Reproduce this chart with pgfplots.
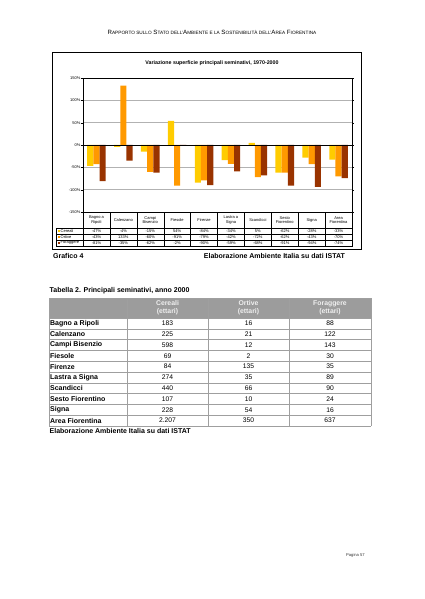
\documentclass[border=0pt]{standalone}
\usepackage{pgfplots}
\pgfplotsset{compat=1.18}
\usepackage{fontspec}
\setmainfont{Liberation Sans}
\definecolor{cer}{HTML}{FFCC00}
\definecolor{ort}{HTML}{FF9900}
\definecolor{fora}{HTML}{993300}
\definecolor{hdr}{HTML}{9C9C9C}
\newcommand{\SC}[1]{{\fontsize{6.6}{7}\selectfont\MakeUppercase{#1}}}
\newcommand{\ctab}{\fontsize{5.6}{6.3}\selectfont}
\begin{document}
\begin{tikzpicture}[x=1.4pt,y=-1.4pt]
\fill[white] (0,0) rectangle (424,599);
% page header
\node[font=\fontsize{8.6}{9}\selectfont] at (212,32) {R\SC{apporto sullo} S\SC{tato dell'}A\SC{mbiente e la} S\SC{ostenibilità dell'}A\SC{rea} F\SC{iorentina}};
% chart frame
\draw[black, line width=0.9pt] (52,52) rectangle (361,249);
\node[font=\bfseries\fontsize{7.4}{8}\selectfont] at (212,63) {Variazione superficie principali seminativi, 1970-2000};
\coordinate (plotNW) at (83,78);
\begin{axis}[
  at={(plotNW)}, anchor=north west,
  width=376.6pt, height=187.6pt, scale only axis,
  xmin=-0.5, xmax=9.5, ymin=-150, ymax=150,
  xtick=\empty,
  ytick={-150,-100,-50,0,50,100,150},
  yticklabels={-150\%,-100\%,-50\%,0\%,50\%,100\%,150\%},
  yticklabel style={font=\ctab, inner sep=1pt},
  tick align=outside, major tick length=2.5pt,
  tick style={black, line width=0.4pt},
  ymajorgrids, grid style={gray!60, line width=0.5pt},
  axis line style={black, line width=0.6pt},
  ybar=0pt, bar width=0.23,
  clip=false,
]
\addplot[fill=cer, draw=none, bar shift=-0.23] coordinates {(0,-47) (1,-4) (2,-15) (3,54) (4,-84) (5,-34) (6,5) (7,-62) (8,-28) (9,-33)};
\addplot[fill=ort, draw=none, bar shift=0] coordinates {(0,-43) (1,133) (2,-60) (3,-91) (4,-79) (5,-42) (6,-72) (7,-62) (8,-43) (9,-70)};
\addplot[fill=fora, draw=none, bar shift=0.23] coordinates {(0,-81) (1,-35) (2,-62) (3,-2) (4,-90) (5,-59) (6,-68) (7,-91) (8,-94) (9,-74)};
\draw[black, line width=0.8pt] (axis cs:-0.5,0) -- (axis cs:9.5,0);
\end{axis}
% data table under chart
\draw[line width=0.4pt] (83,212) rectangle (352,246);
\foreach \k in {1,...,9} \draw[line width=0.4pt] ({83+26.9*\k},212) -- ({83+26.9*\k},246);
\foreach \yy in {228,234,240,246} \draw[line width=0.4pt] (56,\yy) -- (352,\yy);
\draw[line width=0.4pt] (56,228) -- (56,246);
\foreach \n [count=\i from 0] in {{Bagno a\\Ripoli},Calenzano,{Campi\\Bisenzio},Fiesole,Firenze,{Lastra a\\Signa},Scandicci,{Sesto\\Fiorentino},Signa,{Area\\Fiorentina}}
  \node[align=center, font=\ctab, inner sep=0pt] at ({83+26.9*(\i+0.5)},220) {\n};
\foreach \v [count=\i from 0] in {-47,-4,-15,54,-84,-34,5,-62,-28,-33}
  \node[font=\ctab, inner sep=0pt] at ({83+26.9*(\i+0.5)},231) {\v\%};
\foreach \v [count=\i from 0] in {-43,133,-60,-91,-79,-42,-72,-62,-43,-70}
  \node[font=\ctab, inner sep=0pt] at ({83+26.9*(\i+0.5)},237) {\v\%};
\foreach \v [count=\i from 0] in {-81,-35,-62,-2,-90,-59,-68,-91,-94,-74}
  \node[font=\ctab, inner sep=0pt] at ({83+26.9*(\i+0.5)},243) {\v\%};
\fill[cer] (57.5,229.6) rectangle (59.8,232.4);
\fill[ort] (57.5,235.6) rectangle (59.8,238.4);
\fill[fora] (57.5,241.6) rectangle (59.8,244.4);
\node[font=\ctab, anchor=west, inner sep=0pt] at (60.5,231) {Cereali};
\node[font=\ctab, anchor=west, inner sep=0pt] at (60.5,237) {Ortive};
\node[font=\ctab, anchor=west, inner sep=0pt] at (60.5,243) {Foraggere};
% captions
\node[font=\bfseries\fontsize{9.8}{11}\selectfont, anchor=west, inner sep=0pt] at (53,255.5) {Grafico 4};
\node[font=\bfseries\fontsize{9.8}{11}\selectfont, anchor=east, inner sep=0pt] at (345,255.5) {Elaborazione Ambiente Italia su dati ISTAT};
% table 2
\node[font=\bfseries\fontsize{9.8}{11}\selectfont, anchor=west, inner sep=0pt] at (49.5,291) {Tabella 2. Principali seminativi, anno 2000};
\fill[hdr] (49,298) rectangle (371,318);
\foreach \k in {0,...,10} \draw[gray!75, line width=0.6pt] (49,{318+10.8*\k}) -- (371,{318+10.8*\k});
\draw[gray!75, line width=0.6pt] (49,298) -- (371,298);
\foreach \xx in {49,127,208,289,371} \draw[gray!75, line width=0.6pt] (\xx,298) -- (\xx,426);
\foreach \h/\xc in {Cereali/167.5,Ortive/248.5,Foraggere/330}
  \node[align=center, font=\bfseries\fontsize{9.6}{11}\selectfont, text=gray!12, inner sep=0pt] at (\xc,308) {\h\\(ettari)};
\foreach \nm/\a/\b/\c [count=\r from 0] in {Bagno a Ripoli/183/16/88, Calenzano/225/21/122, Campi Bisenzio/598/12/143, Fiesole/69/2/30, Firenze/84/135/35, Lastra a Signa/274/35/89, Scandicci/440/66/90, Sesto Fiorentino/107/10/24, Signa/228/54/16, Area Fiorentina/2.207/350/637}
{
  \node[font=\bfseries\fontsize{9.8}{11}\selectfont, anchor=west, inner sep=0pt] at (50,{323.4+10.8*\r}) {\nm};
  \node[font=\fontsize{9.4}{11}\selectfont, inner sep=0pt] at (167.5,{323.4+10.8*\r}) {\a};
  \node[font=\fontsize{9.4}{11}\selectfont, inner sep=0pt] at (248.5,{323.4+10.8*\r}) {\b};
  \node[font=\fontsize{9.4}{11}\selectfont, inner sep=0pt] at (330,{323.4+10.8*\r}) {\c};
}
\node[font=\bfseries\fontsize{9.8}{11}\selectfont, anchor=west, inner sep=0pt] at (49.5,431) {Elaborazione Ambiente Italia su dati ISTAT};
\node[font=\fontsize{5.8}{7}\selectfont, text=black!80, anchor=west, inner sep=0pt] at (346,555) {Pagina 57};
\end{tikzpicture}
\end{document}
